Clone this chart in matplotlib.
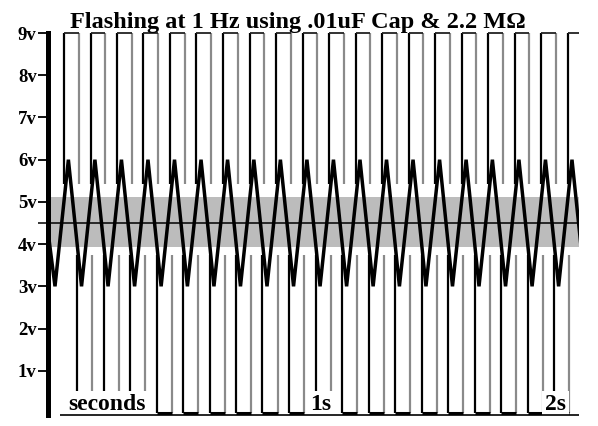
import matplotlib
matplotlib.use("Agg")
import matplotlib.pyplot as plt

# LED drive pulse edges (seconds)
rise_s = [-0.054, 0.057, 0.167, 0.278, 0.389, 0.500, 0.611, 0.722, 0.833, 0.944,
          1.055, 1.166, 1.276, 1.387, 1.498, 1.609, 1.720, 1.831, 1.942, 2.053]
fall_s = [0.000, 0.111, 0.222, 0.333, 0.444, 0.555, 0.665, 0.776, 0.887, 0.998,
          1.109, 1.220, 1.331, 1.442, 1.553, 1.664, 1.774, 1.885, 1.996]

# capacitor voltage turning points (seconds)
trough_s = [-0.092, 0.019, 0.130, 0.241, 0.352, 0.462, 0.573, 0.684, 0.795, 0.906,
            1.017, 1.128, 1.239, 1.349, 1.460, 1.571, 1.682, 1.793, 1.904, 2.015, 2.126]
peak_s = [-0.036, 0.075, 0.186, 0.297, 0.408, 0.519, 0.630, 0.740, 0.851, 0.962,
          1.073, 1.184, 1.295, 1.406, 1.517, 1.628, 1.738, 1.849, 1.960, 2.071]
tri_start = (-0.119, 4.2)

high_v = 9.0
low_v = 0.0
tri_hi = 6.0
tri_lo = 3.0
band_v = (3.93, 5.12)
mid_v = 4.5
upper_stop = 5.43   # edge lines of the pulse stop here (top part)
lower_stop = 3.74   # and start again here (bottom part)

ytick_vals = [1, 2, 3, 4, 5, 6, 7, 8, 9]
ytick_labels = ["1v", "2v", "3v", "4v", "5v", "6v", "7v", "8v", "9v"]
x_labels = ["seconds", "1s", "2s"]
x_label_pos = [-0.038, 0.975, 1.958]

title = "Flashing at 1 Hz using .01uF Cap & 2.2 M\u03a9"

serif = ["Liberation Serif", "DejaVu Serif"]
GRAY = "#8a8a8a"
XMIN, XMAX = -0.1192, 2.1
OFF = 0.007

fig = plt.figure(figsize=(5.98, 4.26), dpi=100)
ax = fig.add_axes([0.0811, 0.02066, 0.887, 0.9117])
ax.set_xlim(XMIN, XMAX)
ax.set_ylim(-0.1, 9.1)

# shaded band and middle reference
ax.axhspan(band_v[0], band_v[1], color="#bcbcbc", lw=0, zorder=1)
ax.hlines(mid_v, XMIN - 0.045, XMAX, color="black", lw=1.1, zorder=3, clip_on=False)

# upper part of square wave
ax.vlines(rise_s, upper_stop, high_v, color="black", lw=1.6, zorder=2)
ax.vlines([f + OFF for f in fall_s], upper_stop, high_v, color=GRAY, lw=1.6, zorder=2)
for r in rise_s:
    nxt = [f + OFF for f in fall_s if f > r]
    end = nxt[0] if nxt else XMAX
    ax.hlines(high_v, r, end, color="#222222", lw=1.3, zorder=2)

# lower part of square wave
for i, f in enumerate(fall_s):
    r = rise_s[i + 1] + OFF
    ax.vlines(f, low_v, lower_stop, color="black", lw=1.6, zorder=2)
    ax.vlines(r, low_v, lower_stop, color=GRAY, lw=1.6, zorder=2)
    ax.hlines(low_v, f, r, color="black", lw=2.2, zorder=2)

# triangle (capacitor voltage)
tx = [tri_start[0]]
ty = [tri_start[1]]
for i, t in enumerate(trough_s):
    tx.append(t)
    ty.append(tri_lo)
    if i < len(peak_s):
        tx.append(peak_s[i])
        ty.append(tri_hi)
ax.plot(tx, ty, color="black", lw=2.5, zorder=4, solid_joinstyle="miter")

# time labels sit on white boxes that hide the lines behind them
for lab, xp in zip(x_labels, x_label_pos):
    ax.text(xp, 0.07, lab, fontsize=17, fontweight="bold", family=serif,
            ha="left", va="baseline", zorder=5,
            bbox=dict(boxstyle="square,pad=0.12", fc="white", ec="none"))

# bottom time axis line
ax.hlines(-0.05, -0.07, XMAX, color="black", lw=1.2, zorder=6, clip_on=False)

for s in ["top", "right", "bottom"]:
    ax.spines[s].set_visible(False)
ax.spines["left"].set_linewidth(3.6)
ax.spines["left"].set_bounds(-0.05, 9)
ax.spines["left"].set_zorder(7)

ax.set_xticks([])
ax.set_yticks(ytick_vals)
ax.set_yticklabels(ytick_labels, fontsize=13.5, fontweight="bold", family=serif)
ax.tick_params(axis="y", length=7, width=1.3, pad=1.5)

fig.text(298 / 598, 1 - 28 / 426, title, fontsize=17.5, fontweight="bold",
         family=serif, ha="center", va="baseline")

fig.savefig("out.png", dpi=100)
